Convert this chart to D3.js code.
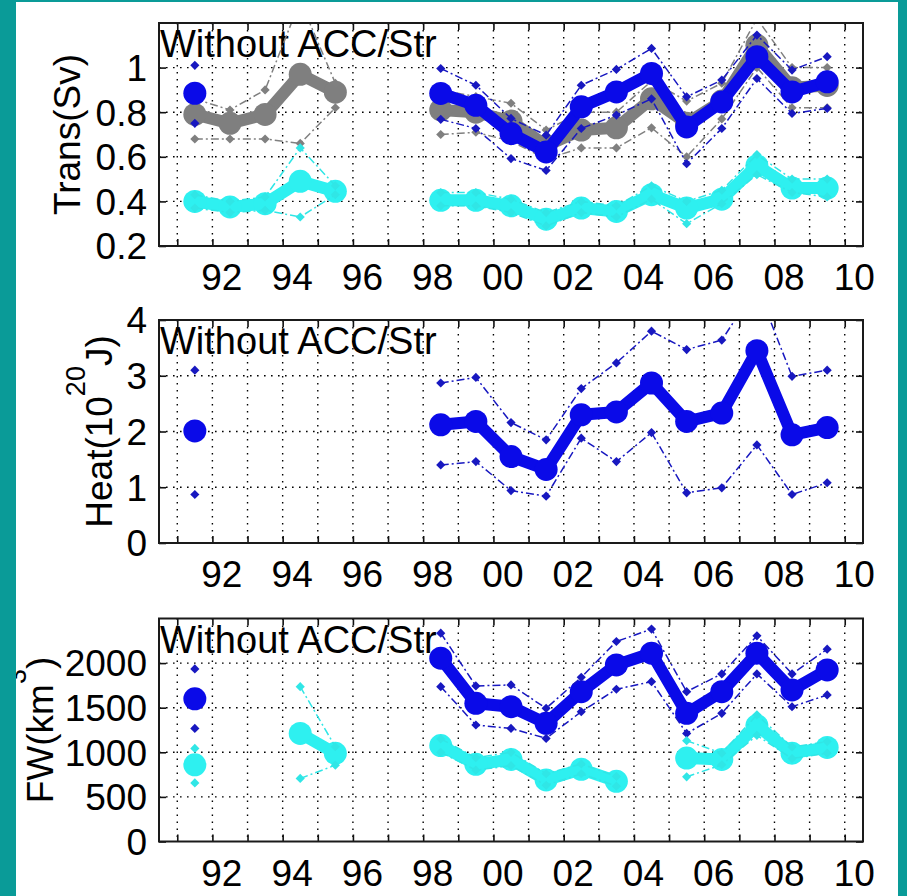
<!DOCTYPE html>
<html>
<head>
<meta charset="utf-8">
<script src="https://cdn.jsdelivr.net/npm/d3@7"></script>
<style>
body{margin:0;background:#fff}
text{font-family:"Liberation Sans",Arial,Helvetica,sans-serif;fill:#000}
</style>
</head>
<body>
<svg id="fig"></svg>
<script>
// x positions (mid year), gaps are null in the series
var years = [1991.5,1992.5,1993.5,1994.5,1995.5,1996.5,1997.5,1998.5,1999.5,2000.5,
             2001.5,2002.5,2003.5,2004.5,2005.5,2006.5,2007.5,2008.5,2009.5]
var yearTicks = [1991,1992,1993,1994,1995,1996,1997,1998,1999,2000,
                 2001,2002,2003,2004,2005,2006,2007,2008,2009,2010]
var yearLabels = [[1992,"92"],[1994,"94"],[1996,"96"],[1998,"98"],[2000,"00"],
                  [2002,"02"],[2004,"04"],[2006,"06"],[2008,"08"],[2010,"10"]]

// panel 1 : transport (Sv)
var transGray   = [0.79,0.75,0.79,0.97,0.89,null,null,0.81,0.80,0.76,0.65,0.72,0.73,0.86,0.75,0.85,1.10,0.91,0.92]
var transGrayHi = [0.86,0.81,0.90,1.30,0.93,null,null,0.90,0.87,0.84,0.72,0.80,0.80,0.94,0.85,0.93,1.22,1.00,1.00]
var transGrayLo = [0.68,0.68,0.68,0.66,0.82,null,null,0.70,0.71,0.67,0.59,0.64,0.64,0.73,0.60,0.77,1.00,0.82,0.82]
var transBlue   = [0.885,null,null,null,null,null,null,0.884,0.831,0.704,0.622,0.824,0.891,0.974,0.734,0.846,1.049,0.891,0.936]
var transBlueHi = [1.01,null,null,null,null,null,null,0.996,0.921,0.772,0.697,0.921,0.992,1.086,0.869,0.944,1.146,0.989,1.049]
var transBlueLo = [0.75,null,null,null,null,null,null,0.768,0.727,0.592,0.539,0.727,0.787,0.86,0.569,0.727,0.951,0.794,0.817]
var transCyan   = [0.40,0.375,0.39,0.49,0.445,null,null,0.405,0.405,0.38,0.32,0.37,0.355,0.43,0.37,0.41,0.56,0.46,0.46]
var transCyanHi = [0.43,0.40,0.42,0.64,0.47,null,null,0.44,0.44,0.41,0.35,0.40,0.38,0.47,0.40,0.45,0.61,0.50,0.50]
var transCyanLo = [0.37,0.35,0.36,0.33,0.43,null,null,0.38,0.38,0.35,0.29,0.35,0.33,0.41,0.30,0.39,0.52,0.44,0.42]

// panel 2 : heat (10^20 J)
var heatBlue   = [2.01,null,null,null,null,null,null,2.12,2.18,1.55,1.32,2.30,2.35,2.87,2.18,2.33,3.45,1.94,2.07]
var heatBlueHi = [3.10,null,null,null,null,null,null,2.87,2.97,2.16,1.85,2.77,3.23,3.80,3.47,3.64,4.60,2.99,3.10]
var heatBlueLo = [0.87,null,null,null,null,null,null,1.40,1.46,0.94,0.84,1.88,1.46,1.98,0.90,0.99,1.76,0.87,1.08]

// panel 3 : freshwater (km^3)
var fwBlue   = [1600,null,null,null,null,null,null,2055,1549,1511,1325,1680,1980,2111,1437,1680,2111,1699,1924]
var fwBlueHi = [1935,null,null,null,null,null,null,2336,1744,1755,1493,1841,2242,2381,1680,1879,2306,1879,2156]
var fwBlueLo = [1268,null,null,null,null,null,null,1736,1306,1268,1156,1455,1707,1792,1212,1437,1879,1511,1643]
var fwCyan   = [860,null,null,1212,988,null,null,1075,865,920,690,810,675,null,935,920,1300,990,1055]
var fwCyanHi = [1044,null,null,1736,1062,null,null,1150,940,1000,760,870,730,null,1130,990,1420,1060,1120]
var fwCyanLo = [657,null,null,707,856,null,null,1000,800,850,630,760,620,null,725,860,1190,930,990]

var transTicks = [0.2,0.4,0.6,0.8,1]
var heatTicks = [0,1,2,3,4]
var fwTicks = [0,500,1000,1500,2000]

var colors = {gray:"#7f7f7f", blue:"#0a0ae8", cyan:"#2ef0f0", teal:"#0a9b98"}

var screen = {width:907, height:896}
var box = {left:159, right:863}
var fontSize = 37

var svg = d3.select("#fig")
    .attr("width", screen.width)
    .attr("height", screen.height)

svg.append("rect").attr("width", screen.width).attr("height", screen.height).attr("fill","#fff")

var xScale = d3.scaleLinear()
    .domain([1990.48, 2010.52])
    .range([box.left, box.right])

var drawPanel = function(p, idx)
{
    var yScale = d3.scaleLinear().domain(p.domain).range([p.bottom, p.top])
    var g = svg.append("g").attr("id","panel"+idx)

    g.append("clipPath").attr("id","clip"+idx)
        .append("rect")
        .attr("x", box.left).attr("y", p.top)
        .attr("width", box.right-box.left).attr("height", p.bottom-p.top)

    //dotted grid
    g.append("g").selectAll("line")
        .data(yearTicks)
        .enter()
        .append("line")
        .attr("x1", function(d){return xScale(d)})
        .attr("x2", function(d){return xScale(d)})
        .attr("y1", p.top).attr("y2", p.bottom)
        .attr("stroke","#000").attr("stroke-width",1.4)
        .attr("stroke-dasharray","1.6,5.4")
    g.append("g").selectAll("line")
        .data(p.ticks.filter(function(t){return t>p.domain[0] && t<p.domain[1]}))
        .enter()
        .append("line")
        .attr("x1", box.left).attr("x2", box.right)
        .attr("y1", function(d){return yScale(d)})
        .attr("y2", function(d){return yScale(d)})
        .attr("stroke","#000").attr("stroke-width",1.4)
        .attr("stroke-dasharray","1.6,5.4")

    //title inside the box
    g.append("text")
        .attr("x", box.left+1)
        .attr("y", p.top+34)
        .attr("font-size", fontSize+1)
        .text("Without ACC/Str")

    var plot = g.append("g").attr("clip-path","url(#clip"+idx+")")
    p.series.forEach(function(s){ drawSeries(plot, yScale, s) })

    //inward ticks on all four sides
    var axes = [
        [d3.axisBottom(xScale).tickValues(yearTicks), "translate(0,"+p.bottom+")"],
        [d3.axisTop(xScale).tickValues(yearTicks), "translate(0,"+p.top+")"],
        [d3.axisLeft(yScale).tickValues(p.ticks), "translate("+box.left+",0)"],
        [d3.axisRight(yScale).tickValues(p.ticks), "translate("+box.right+",0)"]
    ]
    axes.forEach(function(a){
        g.append("g")
            .attr("transform", a[1])
            .call(a[0].tickSize(-7).tickSizeOuter(0).tickFormat(""))
            .call(function(sel){ sel.select(".domain").remove() })
            .selectAll("line").attr("stroke","#111").attr("stroke-width",1.6)
    })

    //y tick labels
    g.append("g").selectAll("text")
        .data(p.ticks)
        .enter()
        .append("text")
        .attr("x", 147)
        .attr("y", function(d){return yScale(d)})
        .attr("dy","0.36em")
        .attr("text-anchor","end")
        .attr("font-size", fontSize)
        .text(function(d){return d3.format("~g")(d)})

    //x tick labels, slightly right of the tick
    g.append("g").selectAll("text")
        .data(yearLabels)
        .enter()
        .append("text")
        .attr("x", function(d){return xScale(d[0]+0.27)})
        .attr("y", p.bottom+44)
        .attr("text-anchor","middle")
        .attr("font-size", fontSize)
        .text(function(d){return d[1]})

    //box
    g.append("rect")
        .attr("x", box.left).attr("y", p.top)
        .attr("width", box.right-box.left).attr("height", p.bottom-p.top)
        .attr("fill","none").attr("stroke","#1a1a1a").attr("stroke-width",2)

    //rotated y label with optional superscript
    var lab = g.append("text")
        .attr("transform","translate("+p.labelX+","+((p.top+p.bottom)/2)+") rotate(-90)")
        .attr("text-anchor","middle")
        .attr("font-size", fontSize)
    lab.append("tspan").text(p.label[0])
    if (p.label.length > 1) {
        lab.append("tspan").attr("font-size",27).attr("dy",-27).text(p.label[1])
        lab.append("tspan").attr("dy",27).text(p.label[2])
    }
}

var drawSeries = function(g, yScale, s)
{
    var pts = function(arr){ return years.map(function(y,i){return [y, arr[i]]}) }
    var lineGen = d3.line()
        .defined(function(d){return d[1] != null})
        .x(function(d){return xScale(d[0])})
        .y(function(d){return yScale(d[1])})

    //thick mean line with big dots
    g.append("path")
        .attr("d", lineGen(pts(s.mean)))
        .attr("fill","none").attr("stroke", s.color)
        .attr("stroke-width", 12).attr("stroke-linejoin","round").attr("stroke-linecap","round")
    g.append("g").selectAll("circle")
        .data(pts(s.mean).filter(function(d){return d[1] != null}))
        .enter()
        .append("circle")
        .attr("cx", function(d){return xScale(d[0])})
        .attr("cy", function(d){return yScale(d[1])})
        .attr("r", 11.5)
        .attr("fill", s.color)

    //thin dash-dot bounds with small diamonds
    ;[s.hi, s.lo].forEach(function(arr){
        g.append("path")
            .attr("d", lineGen(pts(arr)))
            .attr("fill","none").attr("stroke", s.thin)
            .attr("stroke-width", 1.5).attr("stroke-dasharray","8,3,2,3")
        g.append("g").selectAll("path")
            .data(pts(arr).filter(function(d){return d[1] != null}))
            .enter()
            .append("path")
            .attr("d", d3.symbol(d3.symbolSquare, 42))
            .attr("transform", function(d){return "translate("+xScale(d[0])+","+yScale(d[1])+") rotate(45)"})
            .attr("fill", s.thin)
    })
}

var panels = [
    {top:23, bottom:246, domain:[0.2,1.2], ticks:transTicks, labelX:80, label:["Trans(Sv)"],
     series:[
        {mean:transGray, hi:transGrayHi, lo:transGrayLo, color:colors.gray, thin:"#808080"},
        {mean:transBlue, hi:transBlueHi, lo:transBlueLo, color:colors.blue, thin:"#1818c0"},
        {mean:transCyan, hi:transCyanHi, lo:transCyanLo, color:colors.cyan, thin:"#30e6e6"}
     ]},
    {top:320, bottom:543, domain:[0,4], ticks:heatTicks, labelX:112, label:["Heat(10","20","J)"],
     series:[
        {mean:heatBlue, hi:heatBlueHi, lo:heatBlueLo, color:colors.blue, thin:"#1818c0"}
     ]},
    {top:618.5, bottom:841.5, domain:[0,2500], ticks:fwTicks, labelX:53, label:["FW(km","3",")"],
     series:[
        {mean:fwBlue, hi:fwBlueHi, lo:fwBlueLo, color:colors.blue, thin:"#1818c0"},
        {mean:fwCyan, hi:fwCyanHi, lo:fwCyanLo, color:colors.cyan, thin:"#30e6e6"}
     ]}
]

panels.forEach(drawPanel)

//teal frame around the figure
svg.append("rect").attr("x",0).attr("y",0).attr("width",16).attr("height",screen.height).attr("fill",colors.teal)
svg.append("rect").attr("x",898).attr("y",0).attr("width",9).attr("height",screen.height).attr("fill",colors.teal)
svg.append("rect").attr("x",0).attr("y",0).attr("width",screen.width).attr("height",2).attr("fill",colors.teal)
</script>
</body>
</html>
